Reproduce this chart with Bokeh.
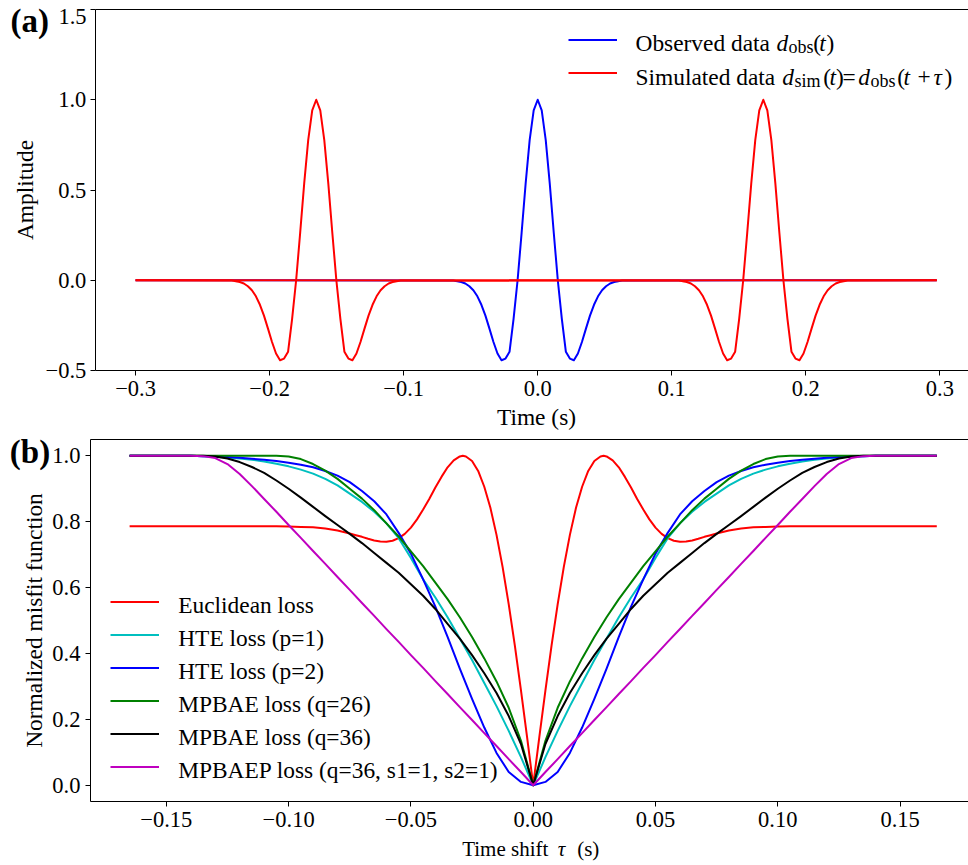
import math
from bokeh.plotting import figure
from bokeh.models import (Legend, LegendItem, Label, Range1d, FixedTicker,
                          CustomJSTickFormatter, LinearAxis)
from bokeh.layouts import column
from bokeh.embed import file_html
from bokeh.resources import INLINE

SERIF = "Liberation Serif"
TICK_SIZE = 22.5
TICK_PX = "22.5px"
LABEL_SIZE = 23.4
SUB_SIZE = 18.0

# ---------------- data: panel (a) ----------------
wave_offset_half = [0.0, 0.003, 0.006, 0.009, 0.012, 0.015, 0.018, 0.021, 0.024, 0.027,
                    0.030, 0.033, 0.036, 0.039, 0.042, 0.045, 0.048, 0.051, 0.054, 0.057,
                    0.060, 0.063, 0.066]
wave_amp_half = [1.000, 0.941, 0.776, 0.535, 0.262, 0.000, -0.214, -0.396, -0.434, -0.443,
                 -0.406, -0.342, -0.268, -0.196, -0.136, -0.089, -0.055, -0.033, -0.018, -0.010,
                 -0.005, -0.002, -0.001]
time_start = -0.300
time_end = 0.2977
obs_peak_time = 0.0
sim_peak_times = [-0.1652, 0.1683]

time_ticks = [-0.3, -0.2, -0.1, 0.0, 0.1, 0.2, 0.3]
amp_ticks = [-0.5, 0.0, 0.5, 1.0, 1.5]

# ---------------- data: panel (b) ----------------
tau_red_half = [0, 0.0025, 0.005, 0.0075, 0.01, 0.0125, 0.015, 0.0175, 0.02, 0.0225, 0.025,
                0.0275, 0.0288, 0.03, 0.0325, 0.035, 0.0375, 0.04, 0.0425, 0.045, 0.0475, 0.05,
                0.0525, 0.055, 0.0575, 0.06, 0.0625, 0.065, 0.0675, 0.07, 0.0725, 0.075, 0.08,
                0.085, 0.09, 0.095, 0.1, 0.105, 0.11, 0.12, 0.13, 0.14, 0.15, 0.165]
euclid_half = [0, 0.146, 0.288, 0.424, 0.549, 0.662, 0.760, 0.842, 0.906, 0.954, 0.984,
               0.998, 1.000, 0.998, 0.986, 0.965, 0.936, 0.904, 0.869, 0.837, 0.807, 0.782,
               0.763, 0.750, 0.742, 0.739, 0.740, 0.743, 0.748, 0.754, 0.759, 0.764, 0.773,
               0.779, 0.783, 0.784, 0.785, 0.786, 0.786, 0.786, 0.786, 0.786, 0.786, 0.786]

tau_half = [0.0, 0.005, 0.01, 0.015, 0.02, 0.025, 0.03, 0.035, 0.04, 0.045, 0.05, 0.055,
            0.06, 0.065, 0.07, 0.075, 0.08, 0.085, 0.09, 0.095, 0.1, 0.105, 0.11, 0.115,
            0.12, 0.125, 0.13, 0.135, 0.14, 0.145, 0.15, 0.155, 0.16, 0.165]
hte1_half = [0, 0.085, 0.165, 0.24, 0.31, 0.38, 0.445, 0.51, 0.57, 0.625, 0.69, 0.75,
             0.795, 0.83, 0.86, 0.885, 0.91, 0.93, 0.946, 0.958, 0.968, 0.976, 0.983, 0.988,
             0.992, 0.995, 0.997, 0.999, 1, 1, 1, 1, 1, 1]
hte2_half = [0, 0.010, 0.040, 0.098, 0.175, 0.262, 0.354, 0.450, 0.542, 0.625, 0.703, 0.766,
             0.822, 0.862, 0.893, 0.920, 0.940, 0.954, 0.965, 0.973, 0.979, 0.984, 0.988, 0.991,
             0.994, 0.996, 0.998, 0.999, 1, 1, 1, 1, 1, 1]
mpbae26_half = [0, 0.135, 0.235, 0.315, 0.385, 0.45, 0.51, 0.565, 0.615, 0.665, 0.71, 0.755,
                0.795, 0.835, 0.87, 0.90, 0.93, 0.955, 0.975, 0.99, 0.998, 1, 1, 1,
                1, 1, 1, 1, 1, 1, 1, 1, 1, 1]
mpbae36_half = [0, 0.125, 0.21, 0.28, 0.34, 0.395, 0.445, 0.49, 0.535, 0.575, 0.61, 0.645,
                0.675, 0.705, 0.735, 0.763, 0.79, 0.817, 0.845, 0.873, 0.90, 0.925, 0.948, 0.966,
                0.981, 0.992, 0.998, 1, 1, 1, 1, 1, 1, 1]
mpbaep_half = [0, 0.040, 0.079, 0.119, 0.158, 0.198, 0.237, 0.277, 0.316, 0.356, 0.395, 0.435,
               0.474, 0.514, 0.553, 0.593, 0.632, 0.672, 0.711, 0.751, 0.790, 0.830, 0.869, 0.908,
               0.945, 0.975, 0.993, 0.999, 1, 1, 1, 1, 1, 1]

tau_ticks = [-0.15, -0.10, -0.05, 0.0, 0.05, 0.10, 0.15]
misfit_ticks = [0.0, 0.2, 0.4, 0.6, 0.8, 1.0]

loss_names = ["Euclidean loss", "HTE loss (p=1)", "HTE loss (p=2)",
              "MPBAE loss (q=26)", "MPBAE loss (q=36)", "MPBAEP loss (q=36, s1=1, s2=1)"]
loss_colors = ["#ff0000", "#00bfbf", "#0000ff", "#008000", "#000000", "#bf00bf"]


def mirror(x_half, y_half):
    xs = [-x for x in reversed(x_half[1:])] + list(x_half)
    ys = list(reversed(y_half[1:])) + list(y_half)
    return xs, ys


wave_off, wave_amp = mirror(wave_offset_half, wave_amp_half)


def trace(peak):
    xs = [time_start] + [peak + o for o in wave_off] + [time_end]
    ys = [0.0] + wave_amp + [0.0]
    return xs, ys


# ---------------- geometry: page pixels <-> data ----------------
W, H1, H2 = 968, 432, 433
A_X0, A_XS = 537.2, 1340.5      # panel (a): page x of t=0, px per second
A_Y0, A_YS = 279.75, 180.5      # panel (a): page y of amplitude 0, px per unit
B_X0, B_XS = 532.7, 2446.0      # panel (b)
B_Y0, B_YS = 784.7, 329.4


def ax_(px): return (px - A_X0) / A_XS
def ay_(py): return (A_Y0 - py) / A_YS
def bx_(px): return (px - B_X0) / B_XS
def by_(py): return (B_Y0 - py) / B_YS


X1, Y1 = (ax_(0), ax_(W)), (ay_(H1), ay_(0))
X2, Y2 = (bx_(0), bx_(W)), (by_(H1 + H2), by_(H1))
A_LEFT, A_BOTTOM, A_TOP = -0.33, -0.5, 1.5
B_LEFT, B_BOTTOM, B_TOP = -0.181, -0.05, 1.05


def fmt(n, skip_above=None):
    skip = "" if skip_above is None else "if (tick > %r) return '';" % skip_above
    return CustomJSTickFormatter(code=skip + "const s = Math.abs(tick).toFixed(%d);"
                                      "return (tick < -1e-9 ? '\\u2212' : '') + s;" % n)


def make_fig(h, xr, yr):
    p = figure(width=W, height=h, x_range=Range1d(*xr), y_range=Range1d(*yr),
               output_backend="svg", toolbar_location=None, min_border=0)
    p.grid.grid_line_color = None
    p.outline_line_color = None
    p.background_fill_color = "white"
    p.border_fill_color = "white"
    return p


def setup_axes(p, left, bottom, top, xend, xticks, yticks, xfmt, yfmt, xstand, ystand):
    xa, ya = p.xaxis[0], p.yaxis[0]
    xa.fixed_location, xa.bounds = bottom, (left, xend)
    ya.fixed_location, ya.bounds = left, (bottom, top)
    for ax in (xa, ya):
        ax.axis_line_color = "black"
        ax.axis_line_width = 1
        ax.major_tick_line_color = "black"
        ax.major_tick_line_width = 1
        ax.major_tick_out = 5
        ax.major_tick_in = 0
        ax.minor_tick_line_color = None
        ax.major_label_text_font = SERIF
        ax.major_label_text_font_size = TICK_PX
        ax.major_label_text_color = "black"
    xa.ticker, ya.ticker = FixedTicker(ticks=xticks), FixedTicker(ticks=yticks)
    xa.formatter, ya.formatter = xfmt, yfmt
    xa.major_label_standoff, ya.major_label_standoff = xstand, ystand
    top_ax = LinearAxis(fixed_location=top, bounds=(left, xend), ticker=FixedTicker(ticks=[]),
                        axis_line_color="black", major_tick_line_color=None,
                        minor_tick_line_color=None, major_label_text_font_size="0px")
    p.add_layout(top_ax, "above")


DESC = 0.23   # the label anchor sits this many ems below the baseline


def put(p, cx, cy, px, py, text, size=LABEL_SIZE, fstyle="normal", align="left", vertical=False):
    """place a text whose baseline starts at page pixel (px, py)"""
    if vertical:
        x, y, angle = cx(px - DESC * size - 3), cy(py), math.pi / 2
    else:
        x, y, angle = cx(px), cy(py - DESC * size), 0.0
    p.add_layout(Label(x=x, y=y, text=text, text_font=SERIF, text_font_size="%.1fpx" % size,
                       text_font_style=fstyle, text_color="black", text_align=align,
                       text_baseline="alphabetic", angle=angle))


NBSP = "\u00a0"

# ---------------- panel (a) ----------------
p1 = make_fig(H1, X1, Y1)
setup_axes(p1, A_LEFT, A_BOTTOM, A_TOP, X1[1], time_ticks, amp_ticks,
           fmt(1), fmt(1, skip_above=1.49), 5, 4)

ox, oy = trace(obs_peak_time)
r_obs = p1.line(ox, oy, line_color="#0000ff", line_width=2, line_join="round")
r_sims = []
for pk in sim_peak_times:
    sx, sy = trace(pk)
    r_sims.append(p1.line(sx, sy, line_color="#ff0000", line_width=2, line_join="round"))

leg1 = Legend(items=[LegendItem(label=NBSP, renderers=[r_obs]),
                     LegendItem(label=NBSP, renderers=[r_sims[0]])],
              location=(567.7, H1 - 88.8),
              glyph_width=49, glyph_height=33, label_height=33, spacing=0,
              label_standoff=18, padding=0, margin=0, border_line_color=None,
              background_fill_alpha=0, label_text_font=SERIF, label_text_font_size="23.4px")
p1.add_layout(leg1)


def ta(px, py, text, **kw):
    put(p1, ax_, ay_, px, py, text, **kw)


def tb(px, py, text, **kw):
    put(p2, bx_, by_, px, py, text, **kw)


# top tick label of panel (a), kept just inside the page edge
ta(86, 21, "%.1f" % amp_ticks[-1], size=TICK_SIZE, align="right")

B1, B2 = 47.7, 81.7
ta(635, B1, "Observed data")
ta(776, B1, "d", fstyle="italic")
ta(788, B1 + 3, "obs", size=SUB_SIZE)
ta(812.7, B1, "(")
ta(818.8, B1, "t", fstyle="italic")
ta(826, B1, ")")

ta(635, B2, "Simulated data")
ta(781.7, B2, "d", fstyle="italic")
ta(794, B2 + 3, "sim", size=SUB_SIZE)
ta(822.7, B2, "(")
ta(829, B2, "t", fstyle="italic")
ta(835.5, B2, ")")
ta(842, B2, "=")
ta(857.7, B2, "d", fstyle="italic")
ta(870, B2 + 3, "obs", size=SUB_SIZE)
ta(896.7, B2, "(")
ta(903, B2, "t", fstyle="italic")
ta(917, B2, "+")
ta(933, B2, "\u03c4", fstyle="italic")
ta(944, B2, ")")

ta(10, 28, "(a)", size=33, fstyle="bold")
ta(536, 421.5, "Time (s)", align="center")
ta(33, 189.5, "Amplitude", align="center", vertical=True)

# ---------------- panel (b) ----------------
p2 = make_fig(H2, X2, Y2)
setup_axes(p2, B_LEFT, B_BOTTOM, B_TOP, X2[1], tau_ticks, misfit_ticks,
           fmt(2), fmt(1), 5, 5)

series = [(tau_red_half, euclid_half), (tau_half, hte1_half), (tau_half, hte2_half),
          (tau_half, mpbae26_half), (tau_half, mpbae36_half), (tau_half, mpbaep_half)]
items = []
for (xh, yh), col in zip(series, loss_colors):
    xs, ys = mirror(xh, yh)
    r = p2.line(xs, ys, line_color=col, line_width=2, line_join="round")
    items.append(LegendItem(label=NBSP, renderers=[r]))

leg2 = Legend(items=items, location=(110, (H1 + H2) - 783.2),
              glyph_width=49, glyph_height=33, label_height=33, spacing=0,
              label_standoff=18, padding=0, margin=0, border_line_color=None,
              background_fill_alpha=0, label_text_font=SERIF, label_text_font_size="23.4px")
p2.add_layout(leg2)

for k, name in enumerate(loss_names):
    tb(177.7, 601.7 + 33.0 * k + 8.5, name)

tb(9.3, 459, "(b)", size=33, fstyle="bold")
tb(461.7, 853, "Time shift", size=21)
tb(557.3, 853, "\u03c4", size=21, fstyle="italic")
tb(576.7, 853, "(s)", size=21)
tb(41.7, 620, "Normalized misfit function", align="center", vertical=True)

p = column(p1, p2, spacing=0)
open("out.html", "w").write(file_html(p, INLINE))
